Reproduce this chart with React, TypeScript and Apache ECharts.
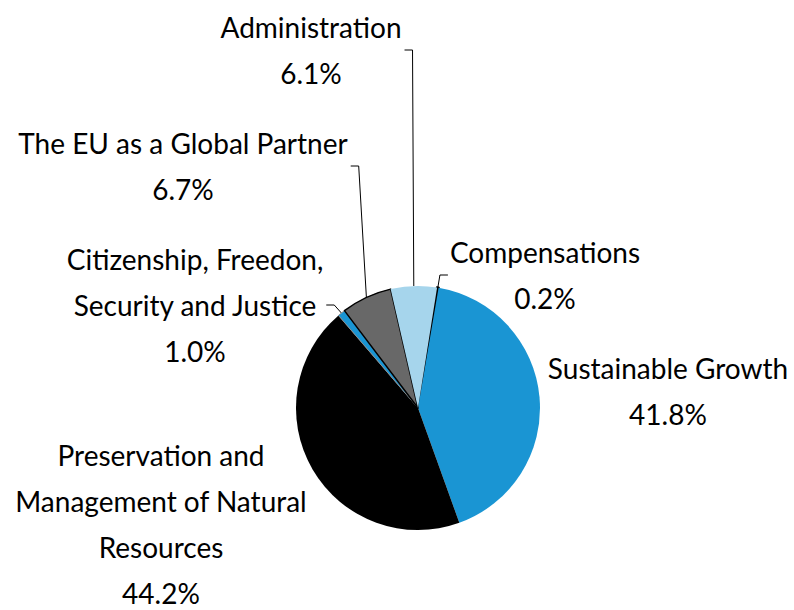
import { useEffect, useRef } from 'react';
import * as echarts from 'echarts';

const categories = [
  'Compensations',
  'Sustainable Growth',
  'Preservation and\nManagement of Natural\nResources',
  'Citizenship, Freedon,\nSecurity and Justice',
  'The EU as a Global Partner',
  'Administration',
];
const shares = [0.2, 41.8, 44.2, 1.0, 6.7, 6.1];
const sliceColors = ['#000000', '#1a95d3', '#000000', '#1a95d3', '#686868', '#a6d5ec'];
const borderColors = ['#000000', 'transparent', 'transparent', '#8a8a8a', '#000000', 'transparent'];
const borderWidths = [2.5, 0, 0, 1, 1.5, 0];
// label block centres (px) and the side of the label that the leader line attaches to
const labelCenters: number[][] = [[545, 275], [668, 391], [161, 524], [195, 305], [183, 166], [311, 50]];
const leaderSide: (string | null)[] = ['left', null, null, 'right', 'right', 'right'];

export default function App() {
  const ref = useRef<HTMLDivElement>(null);
  useEffect(() => {
    if (!ref.current) return;
    const chart = echarts.init(ref.current, null, { renderer: 'svg' });
    const data = categories.map((name, i) => ({
      name,
      value: shares[i],
      itemStyle: { color: sliceColors[i], borderColor: borderColors[i], borderWidth: borderWidths[i] },
      labelLine: { show: leaderSide[i] !== null },
    }));
    chart.setOption({
      animation: false,
      backgroundColor: '#ffffff',
      series: [
        {
          type: 'pie',
          center: [418, 408],
          radius: 122,
          startAngle: 81,
          clockwise: true,
          avoidLabelOverlap: false,
          data,
          label: {
            show: true,
            position: 'outside',
            formatter: (p: any) => `${p.name}\n${Number(p.value).toFixed(1)}%`,
            fontFamily: 'Lato',
            fontSize: 28,
            lineHeight: 46,
            color: '#000000',
            align: 'center',
          },
          labelLine: {
            show: true,
            length: 5,
            length2: 5,
            lineStyle: { color: '#000000', width: 1 },
          },
          labelLayout: (p: any) => {
            const i = p.dataIndex;
            const [cx, cy] = labelCenters[i];
            const w = p.labelRect.width;
            const res: any = { x: cx, y: cy, align: 'center', verticalAlign: 'middle' };
            const side = leaderSide[i];
            if (side && p.labelLinePoints) {
              const anchor = p.labelLinePoints[0];
              const endX = side === 'right' ? cx + w / 2 + 3 : cx - w / 2 - 2;
              const turnX = side === 'right' ? endX + 8 : endX - 8;
              res.labelLinePoints = [anchor, [turnX, cy], [endX, cy]];
            }
            return res;
          },
        },
      ],
    });
    return () => chart.dispose();
  }, []);
  return <div ref={ref} style={{ position: 'fixed', left: 0, top: 0, width: 794, height: 610 }} />;
}
